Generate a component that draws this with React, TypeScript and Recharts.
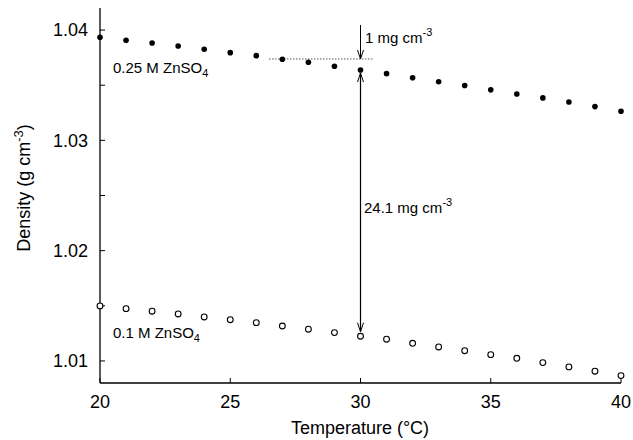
import React from "react";
import {
  ScatterChart,
  Scatter,
  XAxis,
  YAxis,
  ReferenceLine,
} from "recharts";

const temperatures = [20, 21, 22, 23, 24, 25, 26, 27, 28, 29, 30, 31, 32, 33, 34, 35, 36, 37, 38, 39, 40];

const density025 = [
  1.03935, 1.03908, 1.03883, 1.03856, 1.03826, 1.03795, 1.03768, 1.03735, 1.03708, 1.03672,
  1.03638, 1.03605, 1.03568, 1.03532, 1.03497, 1.03458, 1.0342, 1.03385, 1.03348, 1.03306, 1.03264,
];

const density01 = [
  1.01499, 1.01474, 1.01451, 1.01426, 1.01399, 1.01374, 1.01347, 1.01317, 1.01288, 1.01257,
  1.01224, 1.01197, 1.0116, 1.01127, 1.01093, 1.01057, 1.01024, 1.00985, 1.00946, 1.00907, 1.00867,
];

const xTicks = [20, 25, 30, 35, 40];
const yTicks = [1.01, 1.015, 1.02, 1.025, 1.03, 1.035, 1.04];

// annotation positions in data units
const dottedLine = [
  { x: 26.5, y: 1.03738 },
  { x: 30.5, y: 1.03738 },
];
const smallArrow = [
  { x: 30, y: 1.04046 },
  { x: 30, y: 1.03738 },
];
const bigArrow = [
  { x: 30, y: 1.0361 },
  { x: 30, y: 1.01265 },
];

const FONT = "'Liberation Sans', Arial, sans-serif";

const high = temperatures.map((t, i) => ({ t, d: density025[i] }));
const low = temperatures.map((t, i) => ({ t, d: density01[i] }));

function head(tx: number, ty: number, fx: number, fy: number, key: string) {
  const len = 9;
  const w = 3;
  const dx = tx - fx;
  const dy = ty - fy;
  const n = Math.sqrt(dx * dx + dy * dy) || 1;
  const ux = dx / n;
  const uy = dy / n;
  const bx = tx - ux * len;
  const by = ty - uy * len;
  return (
    <path
      key={key}
      d={`M${bx - uy * w},${by + ux * w} L${tx},${ty} L${bx + uy * w},${by - ux * w}`}
      fill="none"
      stroke="#000"
      strokeWidth={1}
    />
  );
}

const endArrow = (p: any) => (
  <g>
    <line x1={p.x1} y1={p.y1} x2={p.x2} y2={p.y2} stroke="#000" strokeWidth={1} />
    {head(p.x2, p.y2, p.x1, p.y1, "e")}
  </g>
);

const bothArrow = (p: any) => (
  <g>
    <line x1={p.x1} y1={p.y1} x2={p.x2} y2={p.y2} stroke="#000" strokeWidth={1.2} />
    {head(p.x1, p.y1, p.x2, p.y2, "s")}
    {head(p.x2, p.y2, p.x1, p.y1, "e")}
  </g>
);

const filledDot = (p: any) => <circle cx={p.cx} cy={p.cy} r={2.8} fill="#000" />;
const openDot = (p: any) => (
  <circle cx={p.cx} cy={p.cy} r={2.9} fill="#fff" stroke="#000" strokeWidth={1.1} />
);

const tickStyle = { fill: "#000", fontSize: 18, fontFamily: FONT };
const axisLine = { stroke: "#000", strokeWidth: 1.3 };
const tickLine = { stroke: "#000", strokeWidth: 1 };

export default function App() {
  return (
    <div style={{ position: "absolute", left: 0, top: 0, width: 633, height: 440, background: "#fff" }}>
      <ScatterChart
        width={633}
        height={440}
        margin={{ top: 8, right: 12, bottom: 17, left: 40 }}
      >
        <XAxis
          xAxisId="b"
          type="number"
          dataKey="t"
          domain={[20, 40]}
          ticks={xTicks}
          height={40}
          tickSize={-5}
          tickMargin={17}
          tick={tickStyle}
          stroke="#000"
          axisLine={axisLine}
          tickLine={tickLine}
        />
        <XAxis
          xAxisId="t"
          orientation="top"
          type="number"
          dataKey="t"
          domain={[20, 40]}
          ticks={xTicks}
          height={0}
          tickSize={-5}
          tick={false}
          stroke="#000"
          axisLine={axisLine}
          tickLine={tickLine}
        />
        <YAxis
          yAxisId="l"
          type="number"
          dataKey="d"
          domain={[1.008, 1.042]}
          ticks={yTicks}
          width={60}
          tickSize={-5}
          tickMargin={17}
          tick={tickStyle}
          tickFormatter={(v: number) =>
            Math.round(v * 1000) % 10 === 0 ? v.toFixed(2) : ""
          }
          stroke="#000"
          axisLine={axisLine}
          tickLine={tickLine}
          allowDataOverflow
        />
        <YAxis
          yAxisId="r"
          orientation="right"
          type="number"
          dataKey="d"
          domain={[1.008, 1.042]}
          ticks={yTicks}
          width={0}
          tickSize={-5}
          tick={false}
          stroke="#000"
          axisLine={axisLine}
          tickLine={tickLine}
          allowDataOverflow
        />
        <ReferenceLine
          xAxisId="b"
          yAxisId="l"
          segment={dottedLine}
          stroke="#000"
          strokeWidth={1}
          strokeDasharray="1 2"
        />
        <ReferenceLine xAxisId="b" yAxisId="l" segment={smallArrow} shape={endArrow} />
        <ReferenceLine xAxisId="b" yAxisId="l" segment={bigArrow} shape={bothArrow} />
        <Scatter
          xAxisId="b"
          yAxisId="l"
          data={high}
          shape={filledDot}
          isAnimationActive={false}
        />
        <Scatter
          xAxisId="b"
          yAxisId="l"
          data={low}
          shape={openDot}
          isAnimationActive={false}
        />
      </ScatterChart>
      <svg
        width={633}
        height={440}
        style={{ position: "absolute", left: 0, top: 0, pointerEvents: "none" }}
        fontFamily={FONT}
        fill="#000"
      >
        <text x={113} y={73} fontSize={15}>
          0.25 M ZnSO<tspan fontSize={11} dy={4}>4</tspan>
        </text>
        <text x={113} y={338} fontSize={15}>
          0.1 M ZnSO<tspan fontSize={11} dy={4}>4</tspan>
        </text>
        <text x={365} y={43} fontSize={15}>
          1 mg cm<tspan fontSize={11} dy={-7}>-3</tspan>
        </text>
        <text x={364} y={213} fontSize={15}>
          24.1 mg cm<tspan fontSize={11} dy={-7}>-3</tspan>
        </text>
        <text x={360} y={434} fontSize={18} textAnchor="middle">
          Temperature (°C)
        </text>
        <text
          transform="translate(30,188) rotate(-90)"
          fontSize={18}
          textAnchor="middle"
        >
          Density (g cm<tspan fontSize={13} dy={-7}>-3</tspan>
          <tspan dy={7}>)</tspan>
        </text>
      </svg>
    </div>
  );
}
